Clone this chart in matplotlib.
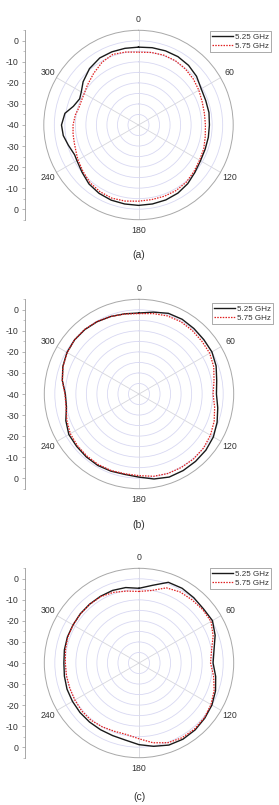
import numpy as np
import matplotlib
matplotlib.use("Agg")
import matplotlib.pyplot as plt

plt.rcParams['font.family'] = ['Liberation Sans', 'DejaVu Sans']

# ---- data (dB vs angle, degrees) ----
angles_a = [0, 10, 20, 30, 40, 50, 60, 70, 80, 90, 100, 110, 120, 130, 140, 150, 160, 170,
            180, 190, 200, 210, 220, 230, 240, 245, 254, 262, 270, 279, 286, 294, 300,
            308, 319, 330, 340, 350]
a_525 = [-3.0, -2.7, -2.5, -2.5, -3.0, -4.0, -5.6, -6.0, -6.0, -6.3, -6.3, -6.3, -6.0, -5.0,
         -3.6, -2.6, -2.1, -1.9, -1.8, -1.9, -2.0, -2.5, -3.4, -5.0, -6.2, -6.5, -5.3, -3.9,
         -3.4, -4.6, -7.8, -9.4, -8.6, -6.6, -4.5, -3.2, -3.0, -3.0]
a_575 = [-5.4, -5.0, -4.7, -4.8, -5.3, -6.0, -6.9, -7.8, -8.2, -8.2, -7.8, -7.0, -6.5, -5.6,
         -4.6, -4.1, -4.0, -4.0, -3.8, -3.3, -3.0, -3.4, -4.2, -5.6, -6.8, -7.5, -8.3, -8.6,
         -8.9, -9.6, -10.5, -10.5, -10.2, -9.2, -7.5, -5.5, -4.3, -4.8]

angles_bc = list(range(0, 360, 10))
b_525 = [-1.5, -0.5, 0.8, 1.0, 0.6, 0.2, 0.0, -1.0, -2.5, -3.2, -2.0, -0.5, 0.8, 1.5, 1.8,
         2.0, 2.0, 1.0, -0.5, -1.2, -1.0, -0.8, -1.0, -1.3, -1.5, -3.0, -5.0, -5.0, -3.0,
         -1.5, -0.5, 0.0, 0.0, -0.3, -0.8, -1.3]
b_575 = [-1.8, -1.2, -0.5, -0.3, -0.6, -1.0, -1.2, -2.2, -3.8, -4.8, -3.5, -2.0, -0.8, 0.0,
         0.3, 0.3, 0.2, -0.3, -1.2, -1.5, -1.3, -1.3, -1.5, -1.8, -2.3, -3.5, -4.8, -4.8,
         -3.0, -1.6, -0.6, 0.0, 0.1, -0.2, -0.8, -1.4]
c_525 = [-4.5, -2.5, 0.8, 1.0, 0.5, 0.0, 0.3, -1.5, -3.8, -4.8, -3.0, -1.3, 0.0, 0.8, 1.5,
         1.8, 1.5, 0.2, -1.2, -2.8, -3.3, -3.4, -3.4, -3.4, -3.5, -3.6, -4.0, -4.3, -4.0,
         -3.8, -3.8, -3.6, -3.5, -3.4, -3.3, -3.6]
c_575 = [-6.0, -5.0, -2.0, -1.0, -0.8, -0.5, -0.5, -2.5, -5.0, -6.0, -4.0, -2.0, -0.5, 0.5,
         1.0, 1.0, 0.3, -1.5, -4.0, -5.5, -5.5, -5.0, -4.5, -4.5, -4.8, -5.0, -5.0, -5.0,
         -4.5, -4.0, -3.8, -3.7, -3.6, -3.6, -4.3, -5.3]

series_labels = ["5.25 GHz", "5.75 GHz"]
theta_ticks = [0, 60, 120, 180, 240, 300]
radial_ticks = [0, -10, -20, -30, -40, -30, -20, -10, 0]
captions = ["(a)", "(b)", "(c)"]

panels = [
    (angles_a, a_525, a_575),
    (angles_bc, b_525, b_575),
    (angles_bc, c_525, c_575),
]

W, H = 279, 805
fig = plt.figure(figsize=(W / 100, H / 100), dpi=100)

RMIN, RMAX = -40, 5
R_PX = 94.7
centers = [(138.5, 125), (139, 394), (139, 663)]
legend_anchor = [(271, 31), (273, 303), (271, 568)]
caption_y = [255, 525, 797]
axis_x = [25, 25, 25]

text_col = '#333333'

def closed(ang, val):
    t = np.deg2rad(np.array(list(ang) + [ang[0] + 360]))
    v = np.array(list(val) + [val[0]])
    return t, v

for i, (ang, s1, s2) in enumerate(panels):
    cx, cy = centers[i]
    left = (cx - R_PX) / W
    bottom = 1 - (cy + R_PX) / H
    ax = fig.add_axes([left, bottom, 2 * R_PX / W, 2 * R_PX / H], projection='polar')
    ax.set_theta_zero_location('N')
    ax.set_theta_direction(-1)
    ax.set_rlim(RMIN, RMAX)
    ax.set_thetagrids(theta_ticks, labels=[''] * len(theta_ticks))
    ax.set_rgrids(np.arange(-35, 1, 5), labels=[''] * 8)
    ax.xaxis.grid(True, color='#d6d6dc', lw=0.6)
    ax.yaxis.grid(True, color='#d8d8f2', lw=0.6)
    ax.spines['polar'].set_color('#a8a8a8')
    ax.spines['polar'].set_linewidth(0.7)
    ax.tick_params(length=0)

    t1, v1 = closed(ang, s1)
    t2, v2 = closed(ang, s2)
    l1, = ax.plot(t1, v1, color='#1a1a1a', lw=1.0, label=series_labels[0],
                  solid_joinstyle='round')
    l2, = ax.plot(t2, v2, color='#e02020', lw=0.9, linestyle=(0, (1.2, 1.0)),
                  label=series_labels[1])

    for th in theta_ticks:
        ax.text(np.deg2rad(th), 9.9, str(th), ha='center', va='center',
                fontsize=6.3, color=text_col, clip_on=False)

    lx, ly = legend_anchor[i]
    leg = ax.legend(handles=[l1, l2], loc='upper right',
                    bbox_to_anchor=(lx / W, 1 - ly / H), bbox_transform=fig.transFigure,
                    fontsize=5.8, frameon=True, fancybox=False, framealpha=1,
                    edgecolor='#888888', handlelength=2.6, handletextpad=0.2,
                    borderpad=0.3, labelspacing=0.15, borderaxespad=0)
    leg.get_frame().set_linewidth(0.5)
    for t in leg.get_texts():
        t.set_color(text_col)

    # linear radial scale on the left
    ax2 = fig.add_axes([axis_x[i] / W, bottom, 0.001, 2 * R_PX / H])
    ax2.set_ylim(-(RMAX - RMIN), RMAX - RMIN)
    pos = [(v - RMIN) if k < 4 else (-(v - RMIN) if k > 4 else 0)
           for k, v in enumerate(radial_ticks)]
    ax2.set_yticks(pos)
    ax2.set_yticklabels([str(v) for v in radial_ticks], fontsize=6.3, color=text_col)
    ax2.set_yticks(np.arange(-45, 46, 5), minor=True)
    ax2.tick_params(axis='y', which='major', length=2.5, width=0.5, color='#999999', pad=2)
    ax2.tick_params(axis='y', which='minor', length=1.5, width=0.4, color='#999999')
    ax2.set_xticks([])
    for sp in ['top', 'right', 'bottom']:
        ax2.spines[sp].set_visible(False)
    ax2.spines['left'].set_color('#999999')
    ax2.spines['left'].set_linewidth(0.6)
    ax2.patch.set_alpha(0)

    fig.text(cx / W, 1 - caption_y[i] / H, captions[i], ha='center', va='center',
             fontsize=7.5, color=text_col)

fig.savefig('out.png', dpi=100, facecolor='white')
